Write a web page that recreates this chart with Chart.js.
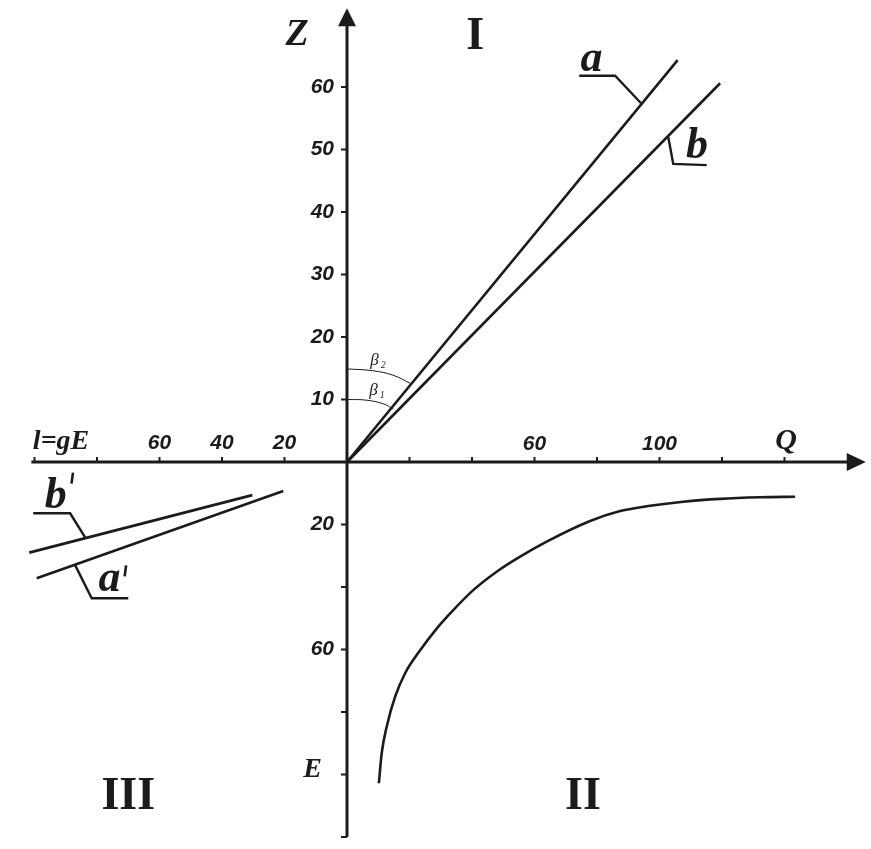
<!DOCTYPE html>
<html>
<head>
<meta charset="utf-8">
<script src="https://cdn.jsdelivr.net/npm/chart.js@4"></script>
<style>
  html, body { margin: 0; padding: 0; background: #fff; overflow: hidden; }
  canvas { display: block; }
</style>
</head>
<body>
<canvas id="chart" width="871" height="849"></canvas>
<script>
// quadrant I : Q (right) vs Z (up)
const lineA = [[0, 0], [105.8, 64.3]]
const lineB = [[0, 0], [119.4, 60.6]]
const arcBeta2 = [[0, 14.9], [8.3, 14.6], [14.7, 13.9], [20.2, 12.6]]
const arcBeta1 = [[0, 10.0], [6.1, 9.9], [11.7, 9.3], [14.7, 8.5]]
const leaderA = [[74.3, 61.8], [85.8, 61.8], [94.1, 57.4]]
const leaderB = [[102.8, 52.0], [104.4, 47.7], [115.1, 47.5]]

// quadrant II : Q (right) vs E (down)
const curveQE = [
  [10.2, 102.8], [11.1, 93.2], [12.7, 84.7], [15.4, 75.1], [18.6, 67.6],
  [23.0, 60.8], [28.7, 53.3], [34.0, 47.4], [40.4, 41.0], [47.9, 35.1],
  [55.4, 30.3], [63.9, 25.5], [77.8, 18.9], [87.4, 15.7], [97.0, 14.0],
  [107.6, 12.7], [119.4, 11.8], [132.2, 11.3], [143.4, 11.1]
]

// quadrant III : l = gE (left) vs E (down)
const lineAp = [[99.3, 37.2], [20.4, 9.3]]
const lineBp = [[101.7, 29.0], [30.3, 10.6]]
const leaderAp = [[87.0, 33.0], [81.7, 43.6], [70.0, 43.6]]
const leaderBp = [[100.4, 16.4], [88.6, 16.4], [83.8, 24.1]]

// tick values and labels
const zTicks = [10, 20, 30, 40, 50, 60]
const zLabels = ['10', '20', '30', '40', '50', '60']
const qTicks = [20, 40, 60, 80, 100, 120, 140]
const qLabels = ['', '', '60', '', '100', '', '']
const lTicks = [20, 40, 60, 80, 100]
const lLabels = ['20', '40', '60', '', '']
const eTicks = [20, 40, 60, 80, 100, 120]
const eLabels = ['20', '', '60', '', '', '']

const ink = '#1b1b1b'
const sans = '"Liberation Sans", Arial, sans-serif'
const serif = '"Liberation Serif", "Times New Roman", serif'

function toPoints(arr) {
  return arr.map(function(p) { return { x: p[0], y: p[1] } })
}

function series(arr, xAxis, yAxis, width, tension, mode) {
  return {
    data: toPoints(arr),
    xAxisID: xAxis,
    yAxisID: yAxis,
    showLine: true,
    borderColor: ink,
    borderWidth: width,
    pointRadius: 0,
    tension: tension || 0,
    cubicInterpolationMode: mode || 'default',
    fill: false
  }
}

const axesPlugin = {
  id: 'axes',
  beforeDatasetsDraw(chart) {
    const ctx = chart.ctx
    const x = chart.scales.x, xL = chart.scales.xL, y = chart.scales.y, yE = chart.scales.yE
    const ox = x.getPixelForValue(0), oy = y.getPixelForValue(0)
    ctx.save()
    ctx.strokeStyle = ink
    ctx.fillStyle = ink
    ctx.lineWidth = 3
    // horizontal axis
    const left = xL.getPixelForValue(101)
    const tipX = x.getPixelForValue(166)
    ctx.beginPath()
    ctx.moveTo(left, oy)
    ctx.lineTo(tipX - 12, oy)
    ctx.stroke()
    ctx.beginPath()
    ctx.moveTo(tipX, oy)
    ctx.lineTo(tipX - 19, oy - 9)
    ctx.lineTo(tipX - 19, oy + 9)
    ctx.closePath()
    ctx.fill()
    // vertical axis
    const bottom = yE.getPixelForValue(120)
    const tipY = y.getPixelForValue(72.6)
    ctx.beginPath()
    ctx.moveTo(ox, bottom)
    ctx.lineTo(ox, tipY + 12)
    ctx.stroke()
    ctx.beginPath()
    ctx.moveTo(ox, tipY)
    ctx.lineTo(ox - 9, tipY + 18)
    ctx.lineTo(ox + 9, tipY + 18)
    ctx.closePath()
    ctx.fill()

    // ticks
    ctx.lineWidth = 2
    ctx.beginPath()
    qTicks.forEach(function(v) {
      const px = x.getPixelForValue(v)
      ctx.moveTo(px, oy); ctx.lineTo(px, oy - 5)
    })
    lTicks.forEach(function(v) {
      const px = xL.getPixelForValue(v)
      ctx.moveTo(px, oy); ctx.lineTo(px, oy - 5)
    })
    zTicks.forEach(function(v) {
      const py = y.getPixelForValue(v)
      ctx.moveTo(ox, py); ctx.lineTo(ox - 6, py)
    })
    eTicks.forEach(function(v) {
      const py = yE.getPixelForValue(v)
      ctx.moveTo(ox, py); ctx.lineTo(ox - 6, py)
    })
    ctx.stroke()
    ctx.restore()
  },
  afterDatasetsDraw(chart) {
    const ctx = chart.ctx
    const x = chart.scales.x, xL = chart.scales.xL, y = chart.scales.y, yE = chart.scales.yE
    const ox = x.getPixelForValue(0), oy = y.getPixelForValue(0)
    ctx.save()
    ctx.fillStyle = ink
    ctx.textBaseline = 'middle'

    // tick labels
    ctx.font = 'italic bold 21px ' + sans
    ctx.textAlign = 'right'
    zTicks.forEach(function(v, i) {
      ctx.fillText(zLabels[i], ox - 13, y.getPixelForValue(v))
    })
    eTicks.forEach(function(v, i) {
      if (eLabels[i]) ctx.fillText(eLabels[i], ox - 13, yE.getPixelForValue(v))
    })
    ctx.textAlign = 'center'
    qTicks.forEach(function(v, i) {
      if (qLabels[i]) ctx.fillText(qLabels[i], x.getPixelForValue(v), oy - 18)
    })
    lTicks.forEach(function(v, i) {
      if (lLabels[i]) ctx.fillText(lLabels[i], xL.getPixelForValue(v), oy - 19)
    })

    // axis names
    ctx.font = 'italic bold 38px ' + serif
    ctx.fillText('Z', x.getPixelForValue(-16), y.getPixelForValue(68.3))
    ctx.font = 'italic bold 30px ' + serif
    ctx.fillText('Q', x.getPixelForValue(140.5), oy - 21)
    ctx.font = 'italic bold 28px ' + serif
    ctx.fillText('E', xL.getPixelForValue(11), yE.getPixelForValue(98.6))
    ctx.fillText('l=gE', xL.getPixelForValue(91.5), oy - 20)

    // quadrant numerals
    ctx.font = 'bold 46px ' + serif
    ctx.fillText('I', x.getPixelForValue(41), y.getPixelForValue(68))
    ctx.fillText('II', x.getPixelForValue(75.5), yE.getPixelForValue(107.2))
    ctx.fillText('III', xL.getPixelForValue(70), yE.getPixelForValue(107.2))

    // line names
    ctx.font = 'italic bold 44px ' + serif
    ctx.fillText('a', x.getPixelForValue(78.2), y.getPixelForValue(64.4))
    ctx.fillText('b', x.getPixelForValue(112), y.getPixelForValue(50.4))
    ctx.fillText('b', xL.getPixelForValue(93.2), yE.getPixelForValue(11))
    ctx.fillText('a', xL.getPixelForValue(76), yE.getPixelForValue(37.6))
    // primes
    ctx.lineWidth = 2.6
    ctx.strokeStyle = ink
    ctx.beginPath()
    const bpx = xL.getPixelForValue(88), bpy = yE.getPixelForValue(5.3)
    ctx.moveTo(bpx + 1, bpy - 6); ctx.lineTo(bpx - 0.5, bpy + 5)
    const apx = xL.getPixelForValue(71), apy = yE.getPixelForValue(35)
    ctx.moveTo(apx + 1, apy - 6); ctx.lineTo(apx - 0.5, apy + 5)
    ctx.stroke()

    // beta labels
    ctx.font = 'italic 17px ' + serif
    ctx.fillText('\u03B2', x.getPixelForValue(8.8), y.getPixelForValue(16.3))
    ctx.fillText('\u03B2', x.getPixelForValue(8.5), y.getPixelForValue(11.5))
    ctx.font = 'italic 10px ' + serif
    ctx.fillText('2', x.getPixelForValue(11.6), y.getPixelForValue(15.5))
    ctx.fillText('1', x.getPixelForValue(11.3), y.getPixelForValue(10.7))
    ctx.restore()
  }
}

const datasets = [
  series(lineA, 'x', 'y', 2.6),
  series(lineB, 'x', 'y', 2.6),
  series(arcBeta2, 'x', 'y', 1, 0.4),
  series(arcBeta1, 'x', 'y', 1, 0.4),
  series(leaderA, 'x', 'y', 2.4),
  series(leaderB, 'x', 'y', 2.4),
  series(curveQE, 'x', 'yE', 2.6, 0.4, 'monotone'),
  series(lineAp, 'xL', 'yE', 2.6),
  series(lineBp, 'xL', 'yE', 2.6),
  series(leaderAp, 'xL', 'yE', 2.4),
  series(leaderBp, 'xL', 'yE', 2.4)
]

new Chart(document.getElementById('chart').getContext('2d'), {
  type: 'scatter',
  data: { datasets: datasets },
  options: {
    responsive: false,
    animation: false,
    events: [],
    layout: { padding: 0 },
    plugins: { legend: { display: false }, tooltip: { enabled: false } },
    scales: {
      x: { type: 'linear', display: false, min: -111.04, max: 167.68 },
      xL: { type: 'linear', display: false, min: -167.68, max: 111.04, reverse: true },
      y: { type: 'linear', display: false, min: -61.92, max: 73.92 },
      yE: { type: 'linear', display: false, min: -147.84, max: 123.84, reverse: true }
    }
  },
  plugins: [axesPlugin]
})
</script>
</body>
</html>
